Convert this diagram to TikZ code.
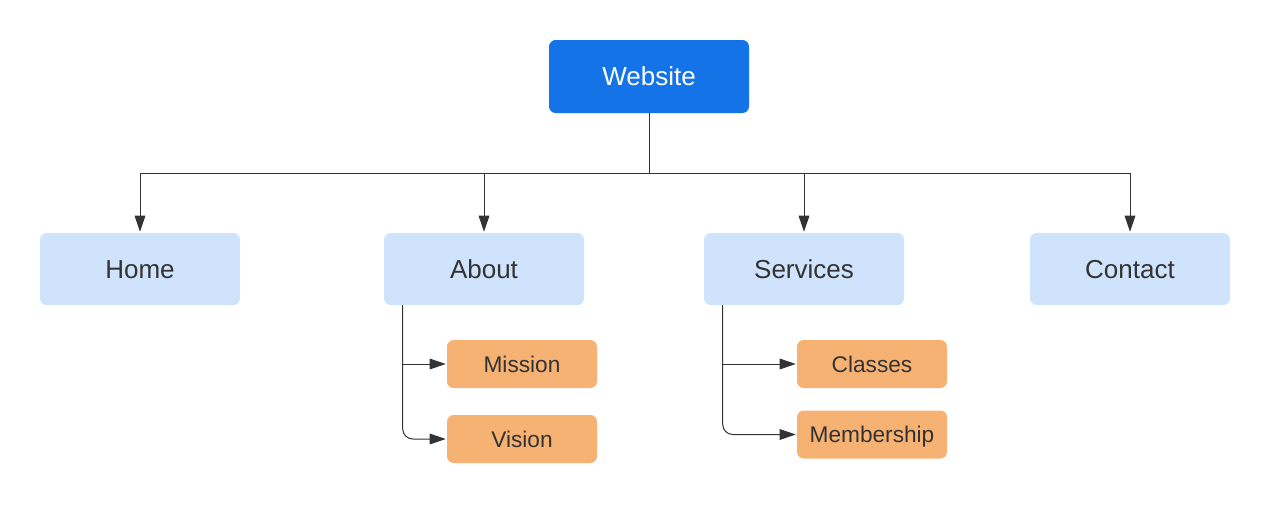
\documentclass[tikz,border=0pt]{standalone}
\usepackage{fontspec}
\setmainfont{Liberation Sans}
\usetikzlibrary{arrows.meta,calc}
\definecolor{topblue}{HTML}{1473E6}
\definecolor{lightblue}{HTML}{CFE3FC}
\definecolor{peach}{HTML}{F6B273}
\definecolor{ink}{HTML}{333333}
\tikzset{
  rootbox/.style={fill=topblue, text=white, rounded corners=5pt, minimum width=150pt, minimum height=54.75pt, inner sep=0pt, text height=14pt, text depth=0pt, font=\fontsize{19.5pt}{22pt}\selectfont},
  pagebox/.style={fill=lightblue, text=ink, rounded corners=5pt, minimum width=150pt, minimum height=54pt, inner sep=0pt, text height=14pt, text depth=0pt, font=\fontsize{19.5pt}{22pt}\selectfont},
  subbox/.style={fill=peach, text=ink, rounded corners=5pt, minimum width=112.5pt, minimum height=36pt, inner sep=0pt, text height=12.2pt, text depth=0pt, font=\fontsize{17pt}{20pt}\selectfont},
  link/.style={draw=ink, line width=0.75pt},
  arr/.style={link, -{Triangle[length=12pt,width=8pt]}, shorten >=0.75pt}
}
\begin{document}
\begin{tikzpicture}[x=0.75pt,y=-0.75pt]
\useasboundingbox (0,0) rectangle (1270,504);
\node[rootbox] (web) at (649,76.5) {Website};
\node[pagebox] (home) at (140,269) {Home};
\node[pagebox] (about) at (484,269) {About};
\node[pagebox] (serv) at (804,269) {Services};
\node[pagebox] (cont) at (1130,269) {Contact};
\node[subbox] (mission) at (522,364) {Mission};
\node[subbox] (vision) at (522,439) {Vision};
\node[subbox] (classes) at (872,364) {Classes};
\node[subbox] (member) at (872,434.5) {Membership};
\coordinate (bus) at (649,173);
\draw[link] (web.south) -- (bus);
\draw[arr] (bus) -| (home);
\draw[arr] (bus) -| (about);
\draw[arr] (bus) -| (serv);
\draw[arr] (bus) -| (cont);
\coordinate (a1) at ($(about.south west)+(19,0)$);
\coordinate (s1) at ($(serv.south west)+(19,0)$);
\draw[arr] (a1) |- (mission);
\draw[arr, rounded corners=7.5pt] (a1) |- (vision);
\draw[arr] (s1) |- (classes);
\draw[arr, rounded corners=7.5pt] (s1) |- (member);
\end{tikzpicture}
\end{document}
